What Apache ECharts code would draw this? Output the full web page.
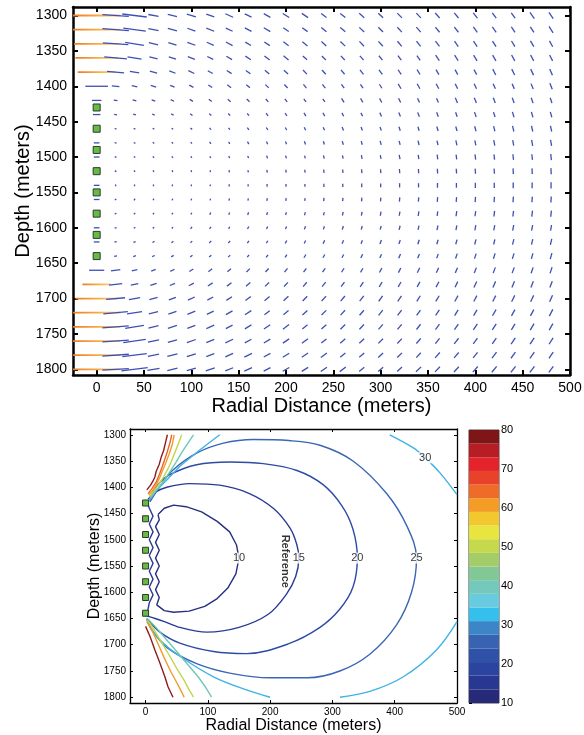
<!DOCTYPE html>
<html>
<head>
<meta charset="utf-8">
<script src="https://cdn.jsdelivr.net/npm/echarts@6/dist/echarts.min.js"></script>
<style>
html, body { margin: 0; padding: 0; background: #fff; }
#main { width: 584px; height: 735px; }
</style>
</head>
<body>
<div id="main"></div>
<script>
// grid of the direction field (top panel)
var xs = [0,20,40,60,80,100,120,140,160,180,200,220,240,260,280,300,320,340,360,380,400,420,440,460,480];
var depths = [1300,1320,1340,1360,1380,1400,1420,1440,1460,1480,1500,1520,1540,1560,1580,1600,1620,1640,1660,1680,1700,1720,1740,1760,1780,1800];

// tilt of each segment in degrees (+ = falls to the right, - = rises to the right)
var tiltRows = [
  [0,4,7,11,14,17,20,24,26,29,32,34,37,39,41,43,45,47,48,50,51,53,54,55,56],
  [0,4,8,11,15,19,22,25,28,31,34,37,39,41,43,45,47,49,51,52,54,55,56,57,58],
  [0,4,9,13,17,20,24,28,31,34,37,39,42,44,46,48,50,52,53,55,56,57,59,60,61],
  [0,5,9,14,18,22,26,30,33,37,40,42,45,47,49,51,53,55,56,58,59,60,61,62,63],
  [0,5,10,16,20,25,29,33,37,40,43,46,48,50,52,54,56,58,59,61,62,63,64,65,66],
  [0,6,12,18,23,28,33,37,40,44,47,50,52,54,56,58,60,61,62,64,65,66,67,68,69],
  [0,7,14,20,26,32,37,41,45,48,51,54,56,58,60,62,63,65,66,67,68,69,70,71,72],
  [0,9,17,24,31,37,42,46,50,53,56,59,61,63,64,66,67,68,70,71,72,72,73,74,74],
  [0,11,20,29,37,43,48,53,56,59,62,64,66,68,69,70,72,73,73,74,75,76,76,77,77],
  [0,14,26,37,45,51,56,60,63,66,68,70,72,73,74,75,76,77,77,78,79,79,80,80,80],
  [0,20,37,48,56,62,66,69,72,73,75,76,77,78,79,80,80,81,82,82,82,83,83,83,84],
  [0,37,56,66,72,75,77,79,80,81,82,83,84,84,85,85,85,86,86,86,86,86,87,87,87],
  [0,90,90,90,90,90,90,90,90,90,90,90,90,90,90,90,90,90,90,90,90,90,90,90,90],
  [0,-37,-56,-66,-72,-75,-77,-79,-80,-81,-82,-83,-84,-84,-85,-85,-85,-86,-86,-86,-86,-86,-87,-87,-87],
  [0,-20,-37,-48,-56,-62,-66,-69,-72,-73,-75,-76,-77,-78,-79,-80,-80,-81,-82,-82,-82,-83,-83,-83,-84],
  [0,-14,-26,-37,-45,-51,-56,-60,-63,-66,-68,-70,-72,-73,-74,-75,-76,-77,-77,-78,-79,-79,-80,-80,-80],
  [0,-11,-20,-29,-37,-43,-48,-53,-56,-59,-62,-64,-66,-68,-69,-70,-72,-73,-73,-74,-75,-76,-76,-77,-77],
  [0,-9,-17,-24,-31,-37,-42,-46,-50,-53,-56,-59,-61,-63,-64,-66,-67,-68,-70,-71,-72,-72,-73,-74,-74],
  [0,-7,-14,-20,-26,-32,-37,-41,-45,-48,-51,-54,-56,-58,-60,-62,-63,-65,-66,-67,-68,-69,-70,-71,-72],
  [0,-6,-12,-18,-23,-28,-33,-37,-40,-44,-47,-50,-52,-54,-56,-58,-60,-61,-62,-64,-65,-66,-67,-68,-69],
  [0,-5,-10,-16,-20,-25,-29,-33,-37,-40,-43,-46,-48,-50,-52,-54,-56,-58,-59,-61,-62,-63,-64,-65,-66],
  [0,-5,-9,-14,-18,-22,-26,-30,-33,-37,-40,-42,-45,-47,-49,-51,-53,-55,-56,-58,-59,-60,-61,-62,-63],
  [0,-4,-9,-13,-17,-20,-24,-28,-31,-34,-37,-39,-42,-44,-46,-48,-50,-52,-53,-55,-56,-57,-59,-60,-61],
  [0,-4,-8,-11,-15,-19,-22,-25,-28,-31,-34,-37,-39,-41,-43,-45,-47,-49,-51,-52,-54,-55,-56,-57,-58],
  [0,-4,-7,-11,-14,-17,-20,-24,-26,-29,-32,-34,-37,-39,-41,-43,-45,-47,-48,-50,-51,-53,-54,-55,-56],
  [0,-3,-7,-10,-13,-16,-19,-22,-25,-27,-30,-32,-35,-37,-39,-41,-43,-44,-46,-47,-49,-50,-52,-53,-54]
];

// segment magnitude, in metres of the x axis
var magRows = [
  [50,28,26,11,10,10,9,9,8,8,8,8,7,7,7,7,7,7,7,7,7,7,7,8,8],
  [50,28,24,11,10,9,9,8,8,8,7,7,7,7,7,7,7,7,7,7,7,7,7,7,8],
  [48,27,20,10,9,9,8,8,7,7,7,7,7,7,7,7,7,7,7,7,7,7,7,7,7],
  [45,24,15,9,8,8,7,7,7,7,7,6,6,6,6,6,6,6,7,7,7,7,7,7,7],
  [40,18,10,8,7,7,6,6,6,6,6,6,6,6,6,6,6,6,6,6,6,7,7,7,7],
  [24,8,6,6,5,5,5,5,5,5,5,5,5,5,5,5,6,6,6,6,6,6,6,6,7],
  [10,4,4,4,4,4,4,4,4,4,4,4,4,5,5,5,5,5,5,6,6,6,6,6,6],
  [8,3,3,3,3,3,3,3,3,3.5,3.5,4,4,4,4,4.5,4.5,5,5,5,5.5,5.5,6,6,6],
  [6,2,2,2,2,2.5,2.5,2.5,3,3,3,3.5,3.5,4,4,4,4.5,4.5,5,5,5.5,5.5,6,6,6],
  [6,2,2,2,2,2,2.5,2.5,3,3,3,3.5,3.5,4,4,4.5,4.5,5,5,5.5,5.5,6,6,6.5,6.5],
  [6,2,2,2,2,2,2,2.5,2.5,3,3,3,3.5,3.5,4,4,4.5,4.5,5,5,5.5,5.5,6,6,6.5],
  [6,2,2,2,2,2,2,2.5,2.5,3,3,3,3.5,3.5,4,4,4.5,4.5,5,5,5.5,5.5,6,6,6.5],
  [6,2,2,2,2,2,2,2.5,2.5,3,3,3,3.5,3.5,4,4,4.5,4.5,5,5,5.5,5.5,6,6,6.5],
  [6,2,2,2,2,2,2,2.5,2.5,3,3,3,3.5,3.5,4,4,4.5,4.5,5,5,5.5,5.5,6,6,6.5],
  [6,2,2,2,2,2,2.5,2.5,3,3,3,3.5,3.5,4,4,4.5,4.5,5,5,5.5,5.5,6,6,6.5,6.5],
  [6,2,2,2,2,2.5,2.5,2.5,3,3,3,3.5,3.5,4,4,4,4.5,4.5,5,5,5.5,5.5,6,6,6],
  [6,2.5,2.5,2.5,2.5,2.5,3,3,3,3,3.5,3.5,4,4,4,4.5,4.5,5,5,5,5.5,5.5,6,6,6.5],
  [6,3,3,3,3,3,3,3,3,3.5,3.5,4,4,4,4.5,4.5,5,5,5,5.5,5.5,6,6,6,6.5],
  [16,10,6,5,5,5,5,5,5,5,5,5,5,5,5,5.5,5.5,6,6,6,6,6.5,6.5,6.5,7],
  [30,14,8,7,6,6,6,6,6,6,6,6,6,6,6,6,6,6,6.5,6.5,7,7,7,7,7],
  [45,20,12,9,8,8,7,7,7,7,7,7,7,7,7,7,7,7,7,7,7,7,7.5,7.5,7.5],
  [50,26,16,10,9,9,8,8,8,7,7,7,7,7,7,7,7,7,7,7,7,7.5,7.5,7.5,8],
  [50,28,20,11,10,9,9,8,8,8,8,7,7,7,7,7,7,7,7,7,7.5,7.5,7.5,8,8],
  [50,28,24,12,10,10,9,9,8,8,8,8,7,7,7,7,7,7,7,7.5,7.5,7.5,8,8,8],
  [50,28,26,12,11,10,9,9,9,8,8,8,8,7,7,7,7,7,7.5,7.5,7.5,8,8,8,8],
  [50,28,28,13,11,10,10,9,9,8,8,8,8,8,7,7,7,7.5,7.5,7.5,8,8,8,8,8]
];

// sources on the wellbore
var sourceDepths = [1430,1460,1490,1520,1550,1580,1610,1640];

// contour lines of the bottom panel, [radial distance, depth]
var c10 = [[20,1452],[22,1462],[16,1475],[22,1490],[16,1505],[22,1520],[16,1535],[22,1550],[16,1565],[22,1580],[16,1595],[22,1610],[18,1624],[30,1635],[45,1638],[70,1636],[95,1627],[115,1612],[132,1592],[145,1565],[150,1535],[146,1510],[135,1485],[115,1465],[90,1447],[65,1437],[45,1434],[30,1440],[20,1452]];
var c15 = [[4,1423],[15,1410],[34,1400],[71,1393],[119,1396],[165,1411],[205,1440],[232,1478],[243,1510],[246,1535],[241,1570],[226,1604],[197,1642],[150,1667],[98,1676],[55,1667],[28,1655],[10,1648],[2,1645]];
var c15w = [[3,1430],[6,1440],[12,1455],[6,1470],[12,1485],[6,1500],[12,1515],[6,1530],[12,1545],[6,1560],[12,1575],[6,1590],[12,1605],[6,1620],[3,1638]];
var c20 = [[6,1425],[20,1395],[39,1376],[82,1357],[136,1352],[189,1355],[243,1368],[285,1395],[315,1435],[333,1480],[340,1535],[333,1590],[312,1632],[280,1667],[230,1698],[162,1717],[109,1713],[55,1697],[23,1676],[4,1652]];
var c25 = [[7,1428],[25,1395],[44,1367],[82,1335],[125,1316],[173,1309],[230,1311],[280,1320],[333,1350],[387,1412],[420,1475],[435,1535],[427,1600],[403,1662],[360,1718],[312,1750],[260,1763],[200,1763],[135,1754],[82,1736],[35,1706],[10,1672],[2,1650]];
var c30a = [[119,1300],[87,1329],[55,1360],[34,1386],[18,1405],[10,1418],[5,1424]];
var c30b = [[200,1800],[162,1786],[109,1761],[55,1722],[23,1691],[7,1665],[2,1653]];
var c30c = [[392,1300],[430,1325],[449,1344],[473,1373],[500,1414]];
var c30d = [[500,1656],[467,1710],[414,1761],[360,1789],[312,1800]];
var c40a = [[77,1300],[68,1316],[58,1334],[48,1354],[38,1372],[28,1390],[17,1406],[7,1420]];
var c50a = [[58,1300],[53,1316],[47,1334],[41,1352],[35,1367],[29,1380],[21,1395],[13,1408],[6,1418]];
var c60a = [[46,1300],[43,1318],[38,1336],[33,1352],[28,1366],[23,1381],[17,1396],[11,1407],[5,1415]];
var c65a = [[42,1300],[39,1316],[35,1332],[31,1346],[27,1360],[22,1376],[17,1390],[10,1403],[4,1412]];
var c75a = [[35,1300],[32,1315],[29,1330],[25,1343],[22,1356],[17,1370],[15,1380],[12,1388],[8,1396],[2,1405]];
var c40b = [[3,1650],[16,1666],[32,1688],[50,1713],[68,1738],[85,1762],[97,1782],[106,1800]];
var c50b = [[3,1653],[13,1670],[25,1694],[38,1720],[50,1745],[62,1768],[70,1786],[77,1800]];
var c60b = [[2,1656],[10,1672],[20,1698],[30,1725],[40,1750],[50,1772],[57,1788],[62,1800]];
var c75b = [[0,1665],[7,1684],[15,1710],[23,1735],[31,1761],[36,1780],[44,1800]];

// [level, points, smoothed]
var contourSet = [
  [10, c10, false], [15, c15, true], [15, c15w, false], [20, c20, true], [25, c25, true],
  [30, c30a, false], [30, c30b, true], [30, c30c, true], [30, c30d, true],
  [40, c40a, false], [50, c50a, false], [60, c60a, false], [65, c65a, false], [75, c75a, false],
  [40, c40b, false], [50, c50b, false], [60, c60b, false], [75, c75b, false]
];
var contourLabels = [['10', 150, 1535], ['15', 246, 1535], ['20', 340, 1535], ['25', 435, 1535], ['30', 449, 1344]];

// colour bar
var bandEdges = [10,13.5,17,20.5,24,27.5,31,34.5,38,41.5,45,48.5,52,55.5,59,62.5,66,69.5,73,76.5,80];
var barTicks = [10,20,30,40,50,60,70,80];
var depthTicks = [1300,1350,1400,1450,1500,1550,1600,1650,1700,1750,1800];
var topXTicks = [0,50,100,150,200,250,300,350,400,450,500];
var botXTicks = [0,100,200,300,400,500];

var bandColors = ['#262a78','#283792','#2b44a0','#2f51a8','#3862b2','#3c86c8','#35bfec','#68cbe0','#74c8bc','#82c894',
                  '#a4cc68','#c6d84c','#e8e63e','#f3c82e','#f39c26','#ee6c28','#e8432a','#e4232a','#b61d25','#7e1618'];
var levelColor = {10:'#27307f',15:'#2a3b95',20:'#2e4ba5',25:'#3a66b4',30:'#3fb2e6',40:'#6fc9b4',50:'#c3d64a',60:'#f39a2a',65:'#ec6229',75:'#8e1c1f'};

var font = 'Liberation Sans, Arial, Helvetica, sans-serif';
var plain = function (v) { return String(v); };

var quiverData = [];
depths.forEach(function (d, i) {
  xs.forEach(function (x, j) {
    quiverData.push([x, d, tiltRows[i][j], magRows[i][j]]);
  });
});

function frame(gridIndex, xMin, xMax, yMin, yMax, xTicks, yTicks, s) {
  var line = { color: '#000', width: s.lw };
  var tick = { inside: true, length: s.tl, lineStyle: { color: '#000', width: s.tw } };
  function t(vals) { return Object.assign({ customValues: vals }, tick); }
  return {
    x: [{
      gridIndex: gridIndex, type: 'value', min: xMin, max: xMax, position: 'bottom',
      axisLine: { onZero: false, lineStyle: line }, axisTick: t(xTicks), splitLine: { show: false },
      axisLabel: { customValues: xTicks, formatter: plain, color: '#000', fontSize: s.fs, margin: s.lm, fontFamily: font },
      name: 'Radial Distance (meters)', nameLocation: 'middle', nameGap: s.xg, nameMoveOverlap: false,
      nameTextStyle: { fontSize: s.ns, color: '#000', fontFamily: font }
    }, {
      gridIndex: gridIndex, type: 'value', min: xMin, max: xMax, position: 'top',
      axisLine: { onZero: false, lineStyle: line }, axisTick: t(xTicks),
      axisLabel: { show: false }, splitLine: { show: false }
    }],
    y: [{
      gridIndex: gridIndex, type: 'value', min: yMin, max: yMax, inverse: true, position: 'left',
      axisLine: { onZero: false, lineStyle: line }, axisTick: t(yTicks), splitLine: { show: false },
      axisLabel: { customValues: yTicks, formatter: plain, color: '#000', fontSize: s.fs, margin: s.lm, fontFamily: font },
      name: 'Depth (meters)', nameLocation: 'middle', nameGap: s.yg, nameMoveOverlap: false,
      nameTextStyle: { fontSize: s.ns, color: '#000', fontFamily: font }
    }, {
      gridIndex: gridIndex, type: 'value', min: yMin, max: yMax, inverse: true, position: 'right',
      axisLine: { onZero: false, lineStyle: line }, axisTick: t(yTicks),
      axisLabel: { show: false }, splitLine: { show: false }
    }]
  };
}

var upperFrame = frame(0, -25, 500, 1288, 1808, topXTicks, depthTicks, { lw: 2.5, tl: 5, tw: 2, fs: 14, lm: 6, ns: 20, xg: 21, yg: 40 });
var lowerFrame = frame(1, -25, 500, 1289, 1811, botXTicks, depthTicks, { lw: 1.3, tl: 3, tw: 1, fs: 10, lm: 4, ns: 16, xg: 15, yg: 27 });

var orangeGrad = new echarts.graphic.LinearGradient(0, 0, 1, 0, [
  { offset: 0, color: '#ee7a20' }, { offset: 0.6, color: '#f6b24c' }, { offset: 1, color: '#f9cf7e' }
]);

var series = [{
  type: 'custom', xAxisIndex: 0, yAxisIndex: 0, clip: true, data: quiverData,
  renderItem: function (params, api) {
    var c = api.coord([api.value(0), api.value(1)]);
    var mag = api.value(3);
    var len = api.size([mag, 0])[0];
    var a = api.value(2) * Math.PI / 180;
    var dx = Math.cos(a) * len / 2, dy = Math.sin(a) * len / 2;
    var strong = mag >= 29;
    return {
      type: 'line',
      shape: { x1: c[0] - dx, y1: c[1] - dy, x2: c[0] + dx, y2: c[1] + dy },
      style: { stroke: strong ? orangeGrad : '#3e4fb4', lineWidth: strong ? 1.8 : 1.3 }
    };
  }
}, {
  type: 'scatter', xAxisIndex: 0, yAxisIndex: 0, symbol: 'rect', symbolSize: 7, z: 5,
  itemStyle: { color: '#66bb44', borderColor: '#2b3b2b', borderWidth: 1, opacity: 1 },
  data: sourceDepths.map(function (d) { return [0, d]; })
}];

contourSet.forEach(function (c) {
  series.push({
    type: 'line', xAxisIndex: 2, yAxisIndex: 2, symbol: 'none', smooth: c[2] ? 0.35 : false,
    lineStyle: { color: levelColor[c[0]], width: 1.4 }, data: c[1]
  });
});

series.push({
  type: 'scatter', xAxisIndex: 2, yAxisIndex: 2, symbol: 'rect', symbolSize: 6, z: 5,
  itemStyle: { color: '#66bb44', borderColor: '#2b3b2b', borderWidth: 1, opacity: 1 },
  data: sourceDepths.map(function (d) { return [0, d]; })
});

series.push({
  type: 'scatter', xAxisIndex: 2, yAxisIndex: 2, symbolSize: 1, z: 6,
  itemStyle: { color: 'rgba(0,0,0,0)' },
  label: {
    show: true, position: 'inside', formatter: '{b}', color: '#000', fontSize: 11,
    fontFamily: font, backgroundColor: '#fff', padding: [0, 1]
  },
  data: contourLabels.map(function (l) { return { name: l[0], value: [l[1], l[2]] }; })
});

series.push({
  type: 'scatter', xAxisIndex: 2, yAxisIndex: 2, symbolSize: 1, z: 6,
  itemStyle: { color: 'rgba(0,0,0,0)' },
  label: { show: true, position: 'inside', formatter: '{b}', color: '#000', fontSize: 11, fontWeight: 'bold', fontFamily: font, rotate: -90 },
  data: [{ name: 'Reference', value: [224, 1541] }]
});

series.push({
  type: 'custom', xAxisIndex: 4, yAxisIndex: 4,
  data: bandColors.map(function (c, i) { return [bandEdges[i], bandEdges[i + 1]]; }),
  renderItem: function (params, api) {
    var p1 = api.coord([0, api.value(1)]);
    var p2 = api.coord([1, api.value(0)]);
    return {
      type: 'rect',
      shape: { x: p1[0], y: p1[1], width: p2[0] - p1[0], height: p2[1] - p1[1] },
      style: { fill: bandColors[params.dataIndex] }
    };
  }
});

var option = {
  animation: false,
  backgroundColor: '#fff',
  textStyle: { fontFamily: font },
  grid: [
    { left: 73, top: 7, width: 497, height: 368, outerBoundsMode: 'none' },
    { left: 130, top: 429, width: 327, height: 274, outerBoundsMode: 'none' },
    { left: 469, top: 430, width: 30, height: 273, outerBoundsMode: 'none', show: true, borderColor: '#444', borderWidth: 1 }
  ],
  xAxis: upperFrame.x.concat(lowerFrame.x).concat([{ gridIndex: 2, type: 'value', min: 0, max: 1, show: false }]),
  yAxis: upperFrame.y.concat(lowerFrame.y).concat([{
    gridIndex: 2, type: 'value', min: 10, max: 80, position: 'right',
    axisLine: { show: false }, splitLine: { show: false },
    axisTick: { customValues: barTicks, length: 3, lineStyle: { color: '#000' } },
    axisLabel: { customValues: barTicks, color: '#000', fontSize: 11, margin: 2, fontFamily: font }
  }]),
  series: series
};

var myChart = echarts.init(document.getElementById('main'));
myChart.setOption(option);
</script>
</body>
</html>
